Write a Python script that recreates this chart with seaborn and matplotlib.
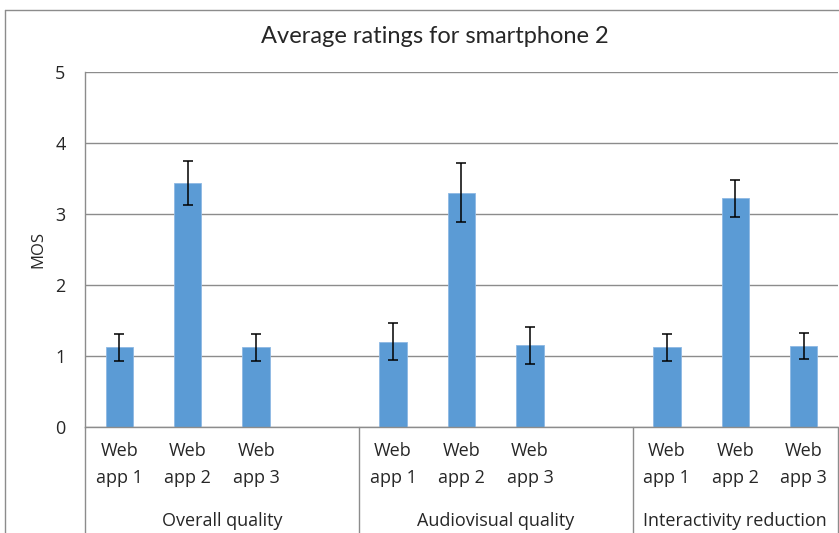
import numpy as np
import pandas as pd
import matplotlib.pyplot as plt
import matplotlib.transforms as mtransforms
from matplotlib.lines import Line2D
import seaborn as sns

# values
groups = ['Overall quality', 'Audiovisual quality', 'Interactivity reduction']
apps = ['Web\napp 1', 'Web\napp 2', 'Web\napp 3']
mos_overall = [1.12, 3.44, 1.12]
mos_audiovisual = [1.20, 3.30, 1.15]
mos_interactivity = [1.12, 3.22, 1.14]
err_overall = [0.19, 0.31, 0.19]
err_audiovisual = [0.26, 0.42, 0.26]
err_interactivity = [0.19, 0.26, 0.19]

mos = [mos_overall, mos_audiovisual, mos_interactivity]
err = [err_overall, err_audiovisual, err_interactivity]

# slots: 3 apps per group, an empty slot after the first two groups (like excel)
order, labels = [], []
rows = []
for g, grp in enumerate(groups):
    for a, app in enumerate(apps):
        key = f'{g}-{a}'
        order.append(key)
        labels.append(app)
        rows.append({'slot': key, 'group': grp, 'mos': mos[g][a], 'err': err[g][a]})
    if g < len(groups) - 1:
        order.append(f'{g}-gap')
        labels.append('')
df = pd.DataFrame(rows)

sns.set_style('white')
plt.rcParams['font.family'] = ['Open Sans', 'DejaVu Sans']

fig = plt.figure(figsize=(8.39, 5.33), dpi=100)
ax = fig.add_axes([0.1013, 0.199, 0.8975, 0.666])

sns.barplot(data=df, x='slot', y='mos', order=order, color='#5B9BD5',
            saturation=1, width=0.4, errorbar=None, edgecolor='#8DB8E4',
            linewidth=0.6, ax=ax, zorder=2)

xpos = [order.index(s) for s in df['slot']]
ax.errorbar(xpos, df['mos'], yerr=df['err'], fmt='none', ecolor='black',
            elinewidth=1.1, capsize=3.5, capthick=1.1, zorder=3)

ax.set_ylim(0, 5)
ax.set_xlim(-0.5, len(order) - 0.5)
ax.set_yticks(range(6))
ax.yaxis.grid(True, color='#8C8C8C', lw=1, zorder=0)
ax.set_axisbelow(True)
ax.set_xticks(range(len(order)))
ax.set_xticklabels(labels, fontsize=13, linespacing=1.6)
ax.tick_params(axis='x', length=0, pad=11)
ax.tick_params(axis='y', length=0, pad=14, labelsize=13)
ax.set_xlabel('')
ax.set_ylabel('MOS', fontsize=12, labelpad=6)

for side in ['top', 'right']:
    ax.spines[side].set_visible(False)
for side in ['left', 'bottom']:
    ax.spines[side].set_color('#8C8C8C')
    ax.spines[side].set_linewidth(1)

# group separators and group names under the category axis
trans = mtransforms.blended_transform_factory(ax.transData, ax.transAxes)
bounds = [-0.5, 3.5, 7.5, len(order) - 0.5]
for b in bounds:
    ax.plot([b, b], [0, -0.32], transform=trans, color='#8C8C8C', lw=1, clip_on=False)
for g, grp in enumerate(groups):
    cx = (bounds[g] + bounds[g + 1]) / 2
    ax.text(cx, -0.265, grp, transform=trans, ha='center', va='center', fontsize=13)

fig.suptitle('Average ratings for smartphone 2', x=0.518, y=0.931, va='center',
             fontsize=17, family=['Lato', 'DejaVu Sans'])

# chart border (top and left visible in the crop)
fig.add_artist(Line2D([0.006, 1], [0.981, 0.981], transform=fig.transFigure, color='#8C8C8C', lw=1))
fig.add_artist(Line2D([0.006, 0.006], [0, 0.981], transform=fig.transFigure, color='#8C8C8C', lw=1))

fig.savefig('out.png', dpi=100)
